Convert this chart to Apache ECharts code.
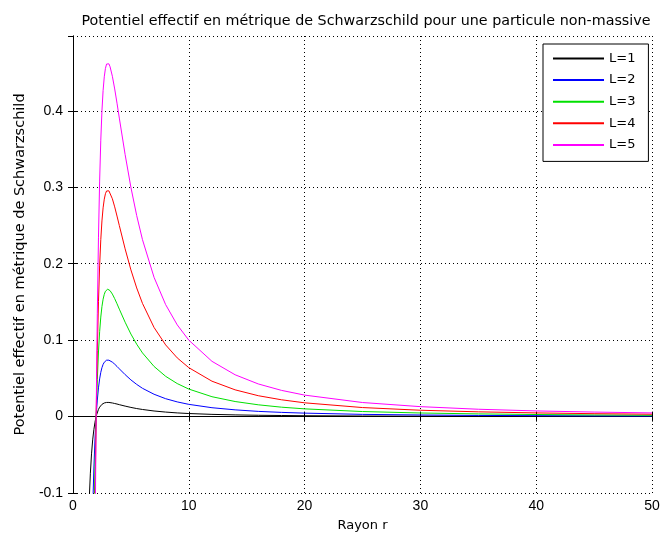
<!DOCTYPE html>
<html>
<head>
<meta charset="utf-8">
<script src="https://cdn.jsdelivr.net/npm/echarts@6/dist/echarts.min.js"></script>
<style>
html,body{margin:0;padding:0;background:#fff;}
#chart{width:663px;height:542px;}
</style>
</head>
<body>
<div id="chart"></div>
<script>
// Rayon r (sample positions)
const radius = [1.4,1.5,1.6,1.7,1.8,1.9,1.95,2,2.05,2.1,2.2,2.3,2.4,2.5,2.6,2.7,2.8,2.9,3.0,3.1,3.2,3.4,3.6,3.8,4.0,4.5,5,5.5,6,7,8,9,10,12,14,16,18,20,25,30,35,40,45,50];

const seriesNames = ['L=1','L=2','L=3','L=4','L=5'];

const valuesL1 = [-0.1093,-0.0741,-0.0488,-0.0305,-0.0172,-0.0073,-0.0034,0,0.0029,0.0054,0.0094,0.0123,0.0145,0.0160,0.0171,0.0178,0.0182,0.0185,0.0185,0.0185,0.0183,0.0178,0.0171,0.0164,0.0156,0.0137,0.0120,0.0105,0.0093,0.0073,0.0059,0.0048,0.0040,0.0029,0.0022,0.0017,0.0014,0.0011,0.00074,0.00052,0.00039,0.00030,0.00024,0.00019];
const valuesL2 = [-0.4373,-0.2963,-0.1953,-0.1221,-0.0686,-0.0292,-0.0135,0,0.0116,0.0216,0.0376,0.0493,0.0579,0.0640,0.0683,0.0711,0.0729,0.0738,0.0741,0.0738,0.0732,0.0712,0.0686,0.0656,0.0625,0.0549,0.0480,0.0421,0.0370,0.0292,0.0234,0.0192,0.0160,0.0116,0.0088,0.0068,0.0055,0.0045,0.0029,0.0021,0.0015,0.0012,0.00094,0.00077];
const valuesL3 = [-0.984,-0.6667,-0.4395,-0.2748,-0.1543,-0.0656,-0.0303,0,0.0261,0.0486,0.0845,0.1110,0.1302,0.1440,0.1536,0.1600,0.1640,0.1661,0.1667,0.1662,0.1648,0.1603,0.1543,0.1476,0.1406,0.1235,0.1080,0.0947,0.0833,0.0656,0.0527,0.0432,0.0360,0.0260,0.0197,0.0154,0.0123,0.0101,0.0066,0.0047,0.0035,0.0027,0.0021,0.0017];
const valuesL4 = [-1.749,-1.185,-0.781,-0.488,-0.2744,-0.1166,-0.0540,0,0.0464,0.0864,0.1503,0.1972,0.2315,0.2560,0.2731,0.2845,0.2916,0.2952,0.2963,0.2954,0.2930,0.2850,0.2744,0.2624,0.2500,0.2195,0.1920,0.1683,0.1481,0.1166,0.0938,0.0768,0.0640,0.0463,0.0350,0.0273,0.0220,0.0180,0.0118,0.0083,0.0062,0.0048,0.0038,0.0031];
const valuesL5 = [-2.733,-1.852,-1.221,-0.763,-0.4287,-0.1823,-0.0843,0,0.0726,0.1350,0.2348,0.3082,0.3617,0.4000,0.4267,0.4446,0.4556,0.4613,0.4630,0.4616,0.4578,0.4453,0.4287,0.4101,0.3906,0.3429,0.3000,0.2630,0.2315,0.1822,0.1465,0.1200,0.1000,0.0723,0.0547,0.0427,0.0343,0.0281,0.0184,0.0130,0.0096,0.0074,0.0059,0.0048];

const xTicks = [0,10,20,30,40,50];
const yTicks = [-0.1,0,0.1,0.2,0.3,0.4];

const allValues = [valuesL1, valuesL2, valuesL3, valuesL4, valuesL5];
const colors = ['#000000','#0000ff','#00e000','#ff0000','#ff00ff'];
const FONT = 'Liberation Sans, Arial, sans-serif';
const WIDE = 'DejaVu Sans, sans-serif';

const chart = echarts.init(document.getElementById('chart'), null, {renderer:'canvas'});

const gridStyle = {show:true, lineStyle:{color:'#000', width:1, type:[1,3]}};
const tickStyle = {show:true, inside:true, length:5, lineStyle:{color:'#000', width:1}};
const axisLineStyle = {show:true, lineStyle:{color:'#000', width:1}};

chart.setOption({
  backgroundColor:'#ffffff',
  animation:false,
  title:{
    text:'Potentiel effectif en métrique de Schwarzschild pour une particule non-massive',
    left:361, top:9, textAlign:'center',
    textStyle:{fontFamily:WIDE, fontSize:14.3, fontWeight:'normal', color:'#000'}
  },
  legend:{
    orient:'vertical', left:543, top:44,
    data:seriesNames,
    itemWidth:51, itemHeight:14, itemGap:8.6,
    padding:[8,13,10,9],
    borderColor:'#000', borderWidth:1, backgroundColor:'#fff',
    itemStyle:{opacity:0},
    textStyle:{fontFamily:WIDE, fontSize:13, color:'#000'}
  },
  grid:{left:73, right:11, top:36, bottom:49, containLabel:false},
  xAxis:[
    {type:'value', position:'bottom', min:xTicks[0], max:xTicks[xTicks.length-1], interval:10,
     name:'Rayon r', nameLocation:'middle', nameGap:26,
     nameTextStyle:{fontFamily:WIDE, fontSize:13, color:'#000'},
     axisLine:axisLineStyle, axisTick:tickStyle, splitLine:gridStyle,
     axisLabel:{fontFamily:FONT, fontSize:14, color:'#000', margin:6}},
    {type:'value', position:'top', min:xTicks[0], max:xTicks[xTicks.length-1], interval:10,
     axisLine:axisLineStyle, axisTick:tickStyle, splitLine:{show:false}, axisLabel:{show:false}}
  ],
  yAxis:[
    {type:'value', position:'left', min:yTicks[0], max:0.498, interval:0.1,
     name:'Potentiel effectif en métrique de Schwarzschild', nameLocation:'middle', nameGap:45,
     nameTextStyle:{fontFamily:WIDE, fontSize:14.5, color:'#000'},
     axisLine:axisLineStyle, axisTick:tickStyle, splitLine:gridStyle,
     axisLabel:{fontFamily:FONT, fontSize:14, color:'#000', margin:10, showMaxLabel:false}},
    {type:'value', position:'right', min:yTicks[0], max:0.498, interval:0.1,
     axisLine:axisLineStyle, axisTick:tickStyle, splitLine:{show:false}, axisLabel:{show:false}}
  ],
  series: seriesNames.map((name, k) => ({
    name:name, type:'line', xAxisIndex:0, yAxisIndex:0,
    data: radius.map((r, i) => [r, allValues[k][i]]),
    symbol:'none', showSymbol:false, clip:true,
    lineStyle:{color:colors[k], width:1},
    itemStyle:{color:colors[k]}
  }))
});
</script>
</body>
</html>
